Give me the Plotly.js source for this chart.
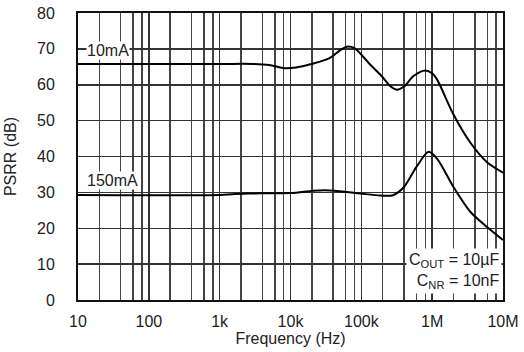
<!DOCTYPE html>
<html>
<head>
<meta charset="utf-8">
<script src="https://cdn.plot.ly/plotly-3.0.1.min.js"></script>
<style>html,body{margin:0;padding:0;background:#fff}#chart{width:524px;height:352px}</style>
</head>
<body>
<div id="chart"></div>
<script>
// Frequency (Hz) and PSRR (dB)
const freq10mA = [10, 100, 1000, 3000, 5000, 8300, 12000, 21000, 36000, 50000, 62000, 80000, 132000, 200000, 260000, 320000, 400000, 550000, 800000, 1000000, 1170000, 2000000, 3450000, 5900000, 10000000];
const psrr10mA = [65.8, 65.8, 65.8, 65.8, 65.5, 64.6, 64.8, 65.9, 67.5, 69.6, 70.6, 70.2, 65.7, 62.1, 59.5, 58.6, 59.5, 62.5, 64.0, 63.2, 61.5, 51.7, 43.9, 38.5, 35.5];
const freq150mA = [10, 1000, 1500, 2500, 10000, 20000, 30000, 50000, 96000, 186000, 280000, 400000, 600000, 890000, 1170000, 2000000, 3450000, 5900000, 10000000];
const psrr150mA = [29.3, 29.3, 29.5, 29.7, 29.8, 30.4, 30.6, 30.3, 29.7, 29.1, 29.2, 31.5, 37.1, 41.3, 39.4, 31.5, 24.6, 20.4, 16.7];
const xTickVals = [10, 100, 1000, 10000, 100000, 1000000, 10000000];
const xTickText = ["10", "100", "1k", "10k", "100k", "1M", "10M"];
const yTickVals = [0, 10, 20, 30, 40, 50, 60, 70, 80];
const seriesLabels = ["10mA", "150mA"];

const minorVals = [];
for (let d = 10; d < 1e7; d *= 10) { [2, 4, 6, 8].forEach(m => minorVals.push(m * d)); }

const FONT = "Liberation Sans, Arial, sans-serif";
const TXT = "#222";
const FS = 16;

const traces = [
  {x: freq10mA, y: psrr10mA, name: seriesLabels[0], mode: "lines", line: {color: "#000", width: 2, shape: "spline", smoothing: 0.8}},
  {x: freq150mA, y: psrr150mA, name: seriesLabels[1], mode: "lines", line: {color: "#000", width: 2, shape: "spline", smoothing: 0.8}}
];

const layout = {
  width: 524, height: 352,
  margin: {l: 78, r: 21, t: 13, b: 52},
  paper_bgcolor: "#fff", plot_bgcolor: "#fff",
  showlegend: false,
  font: {family: FONT, size: FS, color: TXT},
  xaxis: {
    type: "log", range: [1, 7],
    tickmode: "array", tickvals: xTickVals, ticktext: xTickText,
    ticks: "", ticklabelstandoff: 6,
    showgrid: true, gridcolor: "#333", gridwidth: 1.5,
    minor: {tickmode: "array", tickvals: minorVals, showgrid: true, gridcolor: "#444", gridwidth: 1.5, ticks: ""},
    showline: true, linecolor: "#111", linewidth: 2, mirror: true,
    zeroline: false,
    title: {text: "Frequency (Hz)", font: {family: FONT, size: FS, color: TXT}, standoff: 4}
  },
  yaxis: {
    range: [0, 80],
    tickmode: "array", tickvals: yTickVals,
    ticks: "", ticklabelstandoff: 18,
    showgrid: true, gridcolor: "#333", gridwidth: 1.5,
    showline: true, linecolor: "#111", linewidth: 2, mirror: true,
    zeroline: false,
    title: {text: "PSRR (dB)", font: {family: FONT, size: FS, color: TXT}, standoff: 16}
  },
  annotations: [
    {x: 1.424, y: 69.6, xref: "x", yref: "y", text: seriesLabels[0], showarrow: false, bgcolor: "#fff", borderpad: 0, font: {family: FONT, size: FS, color: TXT}},
    {x: 1.49, y: 33.4, xref: "x", yref: "y", text: seriesLabels[1], showarrow: false, bgcolor: "#fff", borderpad: 0, font: {family: FONT, size: FS, color: TXT}},
    {x: 0.997, y: 0.02, xref: "paper", yref: "paper", xanchor: "right", yanchor: "bottom", align: "right",
     text: "C<sub>OUT</sub> = 10µF<br>C<sub>NR</sub> = 10nF", showarrow: false, bgcolor: "#fff", borderpad: 2,
     font: {family: FONT, size: FS, color: TXT}}
  ]
};

Plotly.newPlot("chart", traces, layout, {displayModeBar: false, staticPlot: true});
</script>
</body>
</html>
